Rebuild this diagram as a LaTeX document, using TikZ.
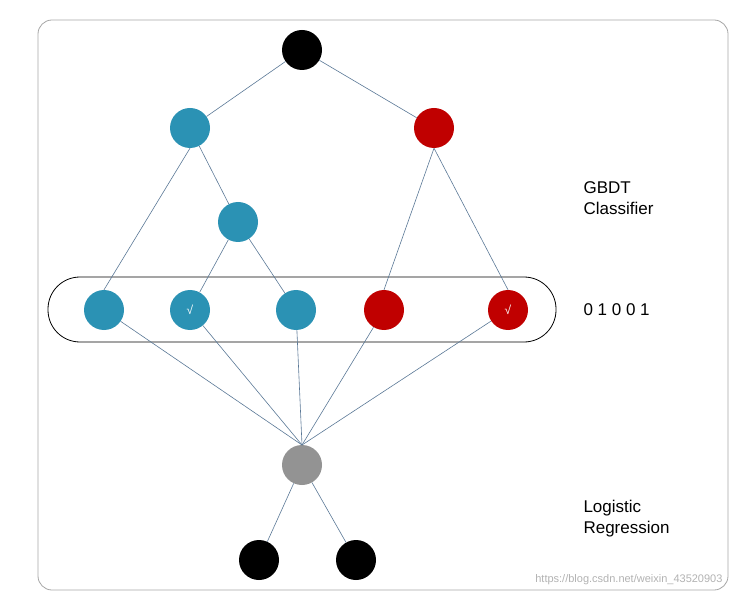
\documentclass[tikz,border=0pt]{standalone}
\usepackage{fontspec}
\setmainfont{Liberation Sans}
\begin{document}
\begin{tikzpicture}[x=1pt,y=-1pt,
  n/.style={circle,minimum size=40pt,inner sep=0pt,draw=none,text=white,font=\large},
  bl/.style={n,fill=blu}, rd/.style={n,fill=rdd}, bk/.style={n,fill=black},
  ln/.style={draw=lnc,line width=0.6pt},
  lab/.style={anchor=west,font=\fontsize{17}{21}\selectfont,align=left}]
\definecolor{blu}{HTML}{2B92B4}
\definecolor{rdd}{HTML}{C00000}
\definecolor{lnc}{HTML}{5A7896}
\useasboundingbox (0,0) rectangle (746,601);
\draw[draw=gray!70,line width=0.8pt,rounded corners=14pt] (38,20) rectangle (728,590);
\draw[black,line width=0.8pt,rounded corners=32pt] (48,277) rectangle (556,342);
\node[bk] (r) at (302,50) {};
\node[bl] (b1) at (190,128) {};
\node[rd] (r1) at (434,128) {};
\node[bl] (b2) at (238,222) {};
\node[bl] (l1) at (104,310) {};
\node[bl] (l2) at (190,310) {\textsurd};
\node[bl] (l3) at (296,310) {};
\node[rd] (l4) at (384,310) {};
\node[rd] (l5) at (508,310) {\textsurd};
\node[n,fill=gray!85] (g) at (302,465) {};
\node[bk] (o1) at (259,560) {};
\node[bk] (o2) at (356,560) {};
\coordinate (gt) at (302,445);
\draw[ln] (r)--(b1) (r)--(r1) (b1.south)--(l1.north) (b1)--(b2) (b2)--(l2) (b2)--(l3)
  (r1.south)--(l4.north) (r1.south)--(l5.north);
\foreach \l in {l1,l2,l3,l4,l5} \draw[ln] (\l)--(gt);
\draw[ln] (g)--(o1) (g)--(o2);
\node[lab] at (580,198) {GBDT\\Classifier};
\node[lab] at (580,310) {0 1 0 0 1};
\node[lab] at (580,519) {Logistic\\Regression};
\node[anchor=east,text=gray!60,font=\fontsize{11}{13}\selectfont] at (726,580) {https://blog.csdn.net/weixin\_43520903};
\end{tikzpicture}
\end{document}
